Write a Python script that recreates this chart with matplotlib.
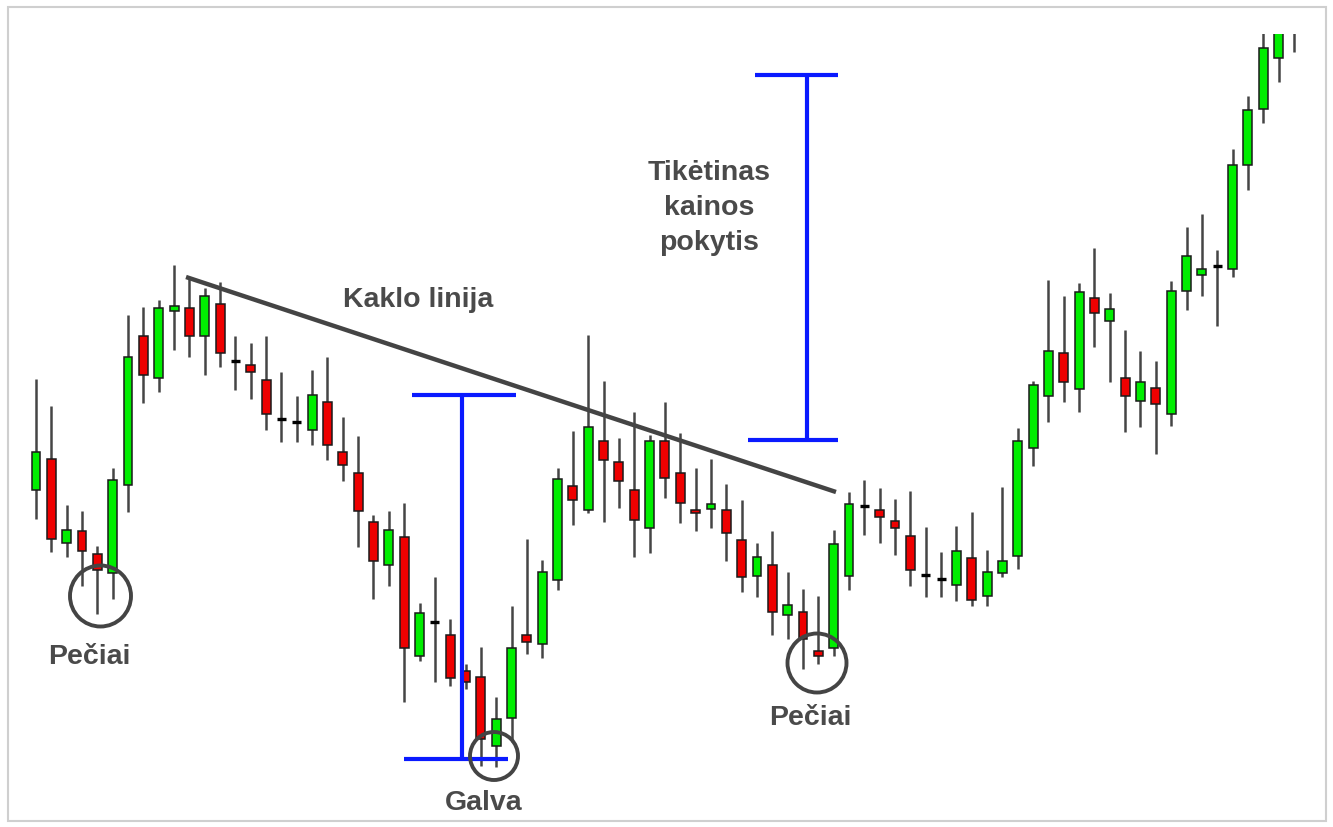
import matplotlib
matplotlib.use("Agg")
import matplotlib.pyplot as plt
from matplotlib.patches import Ellipse, Rectangle
import numpy as np

# ---- data (OHLC, arbitrary price units) ----
opens = [35.9, 39.0, 30.6, 31.8, 29.5, 27.6, 36.4, 51.3, 47.1, 53.8,
         54.1, 51.3, 54.5, 48.8, 48.4, 46.9, 43.0, 42.7, 41.9, 44.7,
         39.7, 37.6, 32.7, 28.4, 31.2, 19.3, 22.7, 21.4, 17.8, 17.2,
         10.3, 13.1, 21.4, 20.5, 26.9, 36.3, 33.9, 40.8, 38.7, 35.9,
         32.1, 40.8, 37.6, 33.9, 34.0, 33.9, 30.9, 27.3, 28.4, 23.4,
         23.7, 19.8, 20.1, 27.3, 34.3, 33.9, 32.8, 31.3, 27.4, 27.0,
         26.4, 29.1, 25.3, 27.6, 29.3, 40.1, 45.3, 49.6, 46.0, 55.1,
         52.8, 47.1, 44.8, 46.1, 43.5, 55.8, 57.4, 58.3, 58.0, 68.4,
         74.0, 79.1, 84.0]
highs = [47.0, 44.3, 34.4, 33.8, 30.3, 38.1, 53.4, 54.2, 54.9, 58.4,
         57.2, 56.1, 56.7, 51.3, 50.6, 51.3, 47.7, 45.3, 47.9, 49.2,
         43.2, 41.3, 33.4, 33.8, 34.6, 24.6, 27.2, 23.0, 18.5, 20.2,
         15.2, 24.3, 31.0, 28.9, 38.1, 41.8, 51.4, 46.8, 41.1, 43.7,
         41.4, 44.7, 41.6, 38.1, 39.0, 36.5, 34.9, 30.6, 31.8, 27.7,
         26.0, 25.3, 31.9, 35.7, 36.9, 36.1, 35.0, 35.8, 32.2, 29.7,
         32.3, 33.7, 29.9, 36.2, 42.1, 46.8, 56.9, 55.3, 56.6, 60.1,
         55.6, 51.9, 49.8, 48.8, 56.8, 62.2, 63.5, 59.9, 70.0, 75.3,
         82.5, 84.5, 88.0]
lows = [33.0, 29.7, 29.2, 26.3, 23.5, 25.0, 33.7, 44.6, 45.7, 49.9,
        49.2, 47.4, 48.2, 45.9, 45.0, 41.9, 40.7, 40.7, 40.4, 38.9,
        36.8, 30.2, 25.0, 26.3, 14.7, 18.8, 16.7, 16.3, 16.0, 8.3,
        8.2, 10.7, 19.5, 19.1, 25.9, 32.4, 33.6, 32.7, 34.1, 29.2,
        29.6, 35.1, 32.6, 31.8, 32.1, 28.8, 25.7, 25.2, 21.4, 21.0,
        18.0, 18.5, 19.3, 25.9, 31.4, 30.6, 29.4, 26.3, 25.2, 25.2,
        24.8, 24.3, 24.3, 27.2, 28.0, 38.3, 42.7, 44.7, 43.7, 50.2,
        46.7, 41.7, 42.2, 39.5, 42.3, 53.9, 55.3, 52.3, 57.2, 65.9,
        72.6, 76.7, 79.7]
closes = [39.7, 31.0, 31.9, 29.8, 27.9, 36.9, 49.2, 47.4, 54.1, 54.3,
          51.3, 55.3, 49.6, 48.8, 47.7, 43.5, 43.0, 42.7, 45.4, 40.4,
          38.4, 33.8, 28.8, 31.9, 20.1, 23.6, 22.7, 17.1, 16.7, 11.0,
          13.0, 20.1, 20.7, 27.7, 37.0, 34.9, 42.2, 38.9, 36.8, 32.9,
          40.8, 37.1, 34.6, 33.6, 34.5, 31.6, 27.2, 29.2, 23.7, 24.4,
          21.0, 19.3, 30.5, 34.5, 34.3, 33.2, 32.1, 27.9, 27.4, 27.0,
          29.8, 24.9, 27.7, 28.8, 40.8, 46.4, 49.8, 46.7, 55.7, 53.6,
          54.0, 45.3, 46.7, 44.5, 55.8, 59.3, 58.0, 58.3, 68.4, 73.9,
          80.1, 83.0, 86.5]

labels_shoulder = "Pečiai"
label_head = "Galva"
label_neck = "Kaklo linija"
label_target = "Tikėtinas\nkainos\npokytis"

# ---- figure ----
W, H = 1333, 828
fig = plt.figure(figsize=(W / 100, H / 100), dpi=100)
fig.patch.set_facecolor("white")

STEP = 15.34   # px per candle
X0 = 36        # px of first candle
TOP = 35       # px where chart is clipped
ax = fig.add_axes([0, 0, 1, (H - TOP) / H])
ax.set_xlim(-X0 / STEP, (W - X0) / STEP)
ax.set_ylim(85 - H / 10, 85 - TOP / 10)
ax.axis("off")

GREEN = "#00ee00"
RED = "#ee0000"
WICK = "#454545"
n = len(opens)
x = np.arange(n)
o = np.array(opens); c = np.array(closes)
hi = np.array(highs); lo = np.array(lows)

ax.vlines(x, lo, hi, color=WICK, lw=1.8, zorder=2)
body_w = 0.58
for i in range(n):
    if abs(c[i] - o[i]) < 0.05:
        ax.hlines(o[i], i - body_w / 2, i + body_w / 2, color="black", lw=2.4, zorder=3)
    else:
        col = GREEN if c[i] > o[i] else RED
        ax.bar(i, abs(c[i] - o[i]), bottom=min(o[i], c[i]), width=body_w,
               color=col, edgecolor="#1a1a1a", linewidth=1.1, zorder=3)

# ---- annotations ----
NECK = "#444444"
ax.plot([9.78, 52.15], [57.2, 35.7], color=NECK, lw=3.2, solid_capstyle="butt", zorder=5)

BLUE = "#0a1aff"
bl = dict(color=BLUE, lw=3.0, zorder=6, solid_capstyle="butt")
ax.plot([27.77, 27.77], [45.4, 9.0], **bl)
ax.plot([24.5, 31.3], [45.4, 45.4], **bl)
ax.plot([24.0, 30.8], [9.0, 9.0], **bl)
ax.plot([50.26, 50.26], [77.4, 40.9], **bl)
ax.plot([46.9, 52.3], [77.4, 77.4], **bl)
ax.plot([46.4, 52.3], [40.9, 40.9], **bl)

def circ(px, py, r):
    e = Ellipse(((px - X0) / STEP, 85 - py / 10), 2 * r / STEP, 2 * r / 10,
                fill=False, edgecolor=NECK, lw=2.8, zorder=7, clip_on=False)
    ax.add_patch(e)

circ(100.5, 597, 30.5)
circ(494, 757, 24)
circ(817, 664, 29.5)

TXT = "#4a4a4a"
tk = dict(color=TXT, fontsize=20.5, fontweight="bold", family="Liberation Sans",
          ha="center", va="center", zorder=8, clip_on=False)
def pt(px, py):
    return ((px - X0) / STEP, 85 - py / 10)

ax.text(*pt(89, 657), labels_shoulder, **tk)
ax.text(*pt(484, 803), label_head, **tk)
ax.text(*pt(810, 718), labels_shoulder, **tk)
ax.text(*pt(418, 300), label_neck, **tk)
ax.text(*pt(709, 208), label_target, linespacing=1.45, **tk)

# light frame
fig.patches.append(Rectangle((8 / W, 1 - 822 / H), (1326 - 8) / W, (822 - 8) / H,
                             transform=fig.transFigure, fill=False,
                             edgecolor="#cfcfcf", lw=1.5))

fig.savefig("out.png", dpi=100, facecolor="white")
